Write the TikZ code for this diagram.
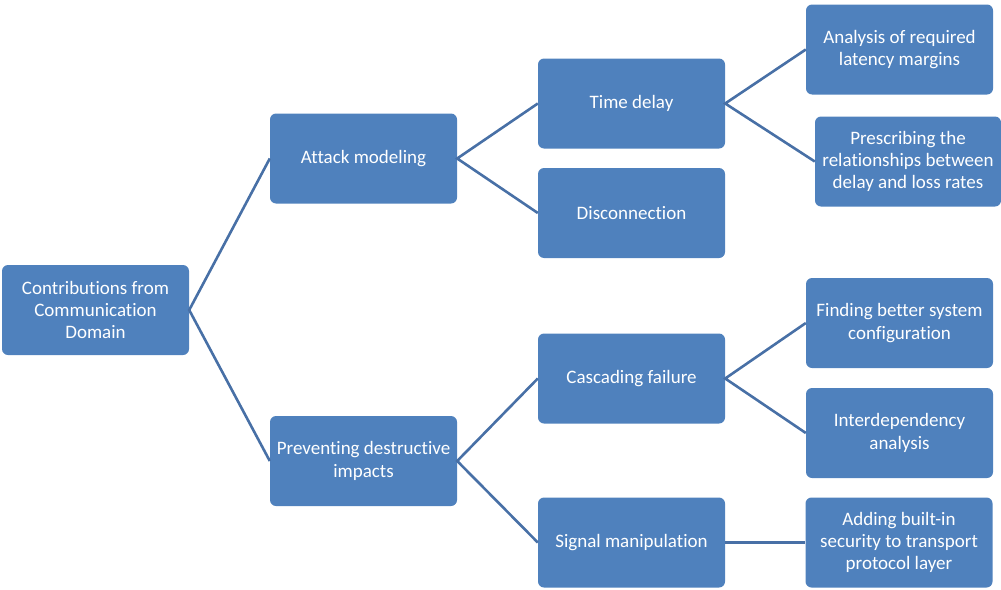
\documentclass[tikz,border=0pt]{standalone}
\usepackage{fontspec}
\setmainfont[Ligatures={NoCommon}]{Carlito}
\begin{document}
\definecolor{boxfill}{RGB}{79,129,189}
\definecolor{linkblue}{RGB}{72,112,166}
\begin{tikzpicture}[x=1pt,y=-1pt,
  box/.style={draw=none, fill=boxfill, rounded corners=6pt, text=white,
    font=\fontsize{19}{22.3}\selectfont, align=center, inner sep=0pt,
    minimum width=187pt, minimum height=90pt},
  link/.style={draw=linkblue, line width=2.6pt}]
\useasboundingbox (0,0) rectangle (1001,589);

% root
\node[box] (root) at (95.5,310) {Contributions from\\Communication\\Domain};

% second level
\node[box] (attack) at (363.5,158.5) {Attack modeling};
\node[box] (prevent) at (363.5,461) {Preventing destructive\\impacts};

% third level
\node[box] (delay) at (631.5,103.5) {Time delay};
\node[box] (disc) at (631.5,213) {Disconnection};
\node[box] (casc) at (631.5,378.5) {Cascading failure};
\node[box] (signal) at (631.5,542.5) {Signal manipulation};

% leaves
\node[box] (latency) at (899.5,49.5) {Analysis of required\\latency margins};
\node[box, minimum width=186pt] (rates) at (908,161.5) {Prescribing the\\relationships between\\delay and loss rates};
\node[box] (config) at (899.5,323) {Finding better system\\configuration};
\node[box] (interdep) at (899.5,433) {Interdependency\\analysis};
\node[box] (secure) at (899,542.5) {Adding built-in\\security to transport\\protocol layer};

% connectors
\draw[link] (attack.west) -- (root.east) -- (prevent.west);
\draw[link] (delay.west) -- (attack.east) -- (disc.west);
\draw[link] (casc.west) -- (prevent.east) -- (signal.west);
\draw[link] (latency.west) -- (delay.east) -- (rates.west);
\draw[link] (config.west) -- (casc.east) -- (interdep.west);
\draw[link] (signal.east) -- (secure.west);
\end{tikzpicture}
\end{document}
